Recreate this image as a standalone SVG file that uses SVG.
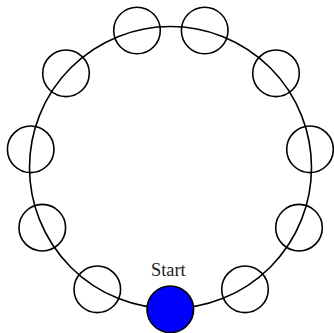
<svg xmlns="http://www.w3.org/2000/svg" width="334" height="333" viewBox="0 0 334 333">
<style>
.ring{fill:none;stroke:#000;stroke-width:1.6}
.n{fill:none;stroke:#000;stroke-width:1.6}
.start{fill:#0000ff;stroke:#000;stroke-width:1.6}
.lbl{font-family:"Liberation Serif","Times New Roman",serif;font-size:19px;fill:#222}
</style>
<rect width="334" height="333" fill="#fff"/>
<g id="connectors">
<circle class="ring" cx="170.5" cy="167.5" r="141"/>
</g>
<g id="n1"><circle class="n" cx="137" cy="30.5" r="23.3"/></g>
<g id="n2"><circle class="n" cx="204.7" cy="30.5" r="23.3"/></g>
<g id="n3"><circle class="n" cx="66" cy="73.3" r="23.3"/></g>
<g id="n4"><circle class="n" cx="276" cy="73.3" r="23.3"/></g>
<g id="n5"><circle class="n" cx="30.7" cy="149.3" r="23.3"/></g>
<g id="n6"><circle class="n" cx="310" cy="149.3" r="23.3"/></g>
<g id="n7"><circle class="n" cx="42.3" cy="227.7" r="23.3"/></g>
<g id="n8"><circle class="n" cx="299" cy="227.7" r="23.3"/></g>
<g id="n9"><circle class="n" cx="97.3" cy="289.3" r="23.3"/></g>
<g id="n10"><circle class="n" cx="245" cy="289.3" r="23.3"/></g>
<g id="start"><circle class="start" cx="170.3" cy="309.3" r="23.3"/>
<text class="lbl" x="168.3" y="275.5" text-anchor="middle" textLength="34.7" lengthAdjust="spacingAndGlyphs">Start</text></g>
</svg>
